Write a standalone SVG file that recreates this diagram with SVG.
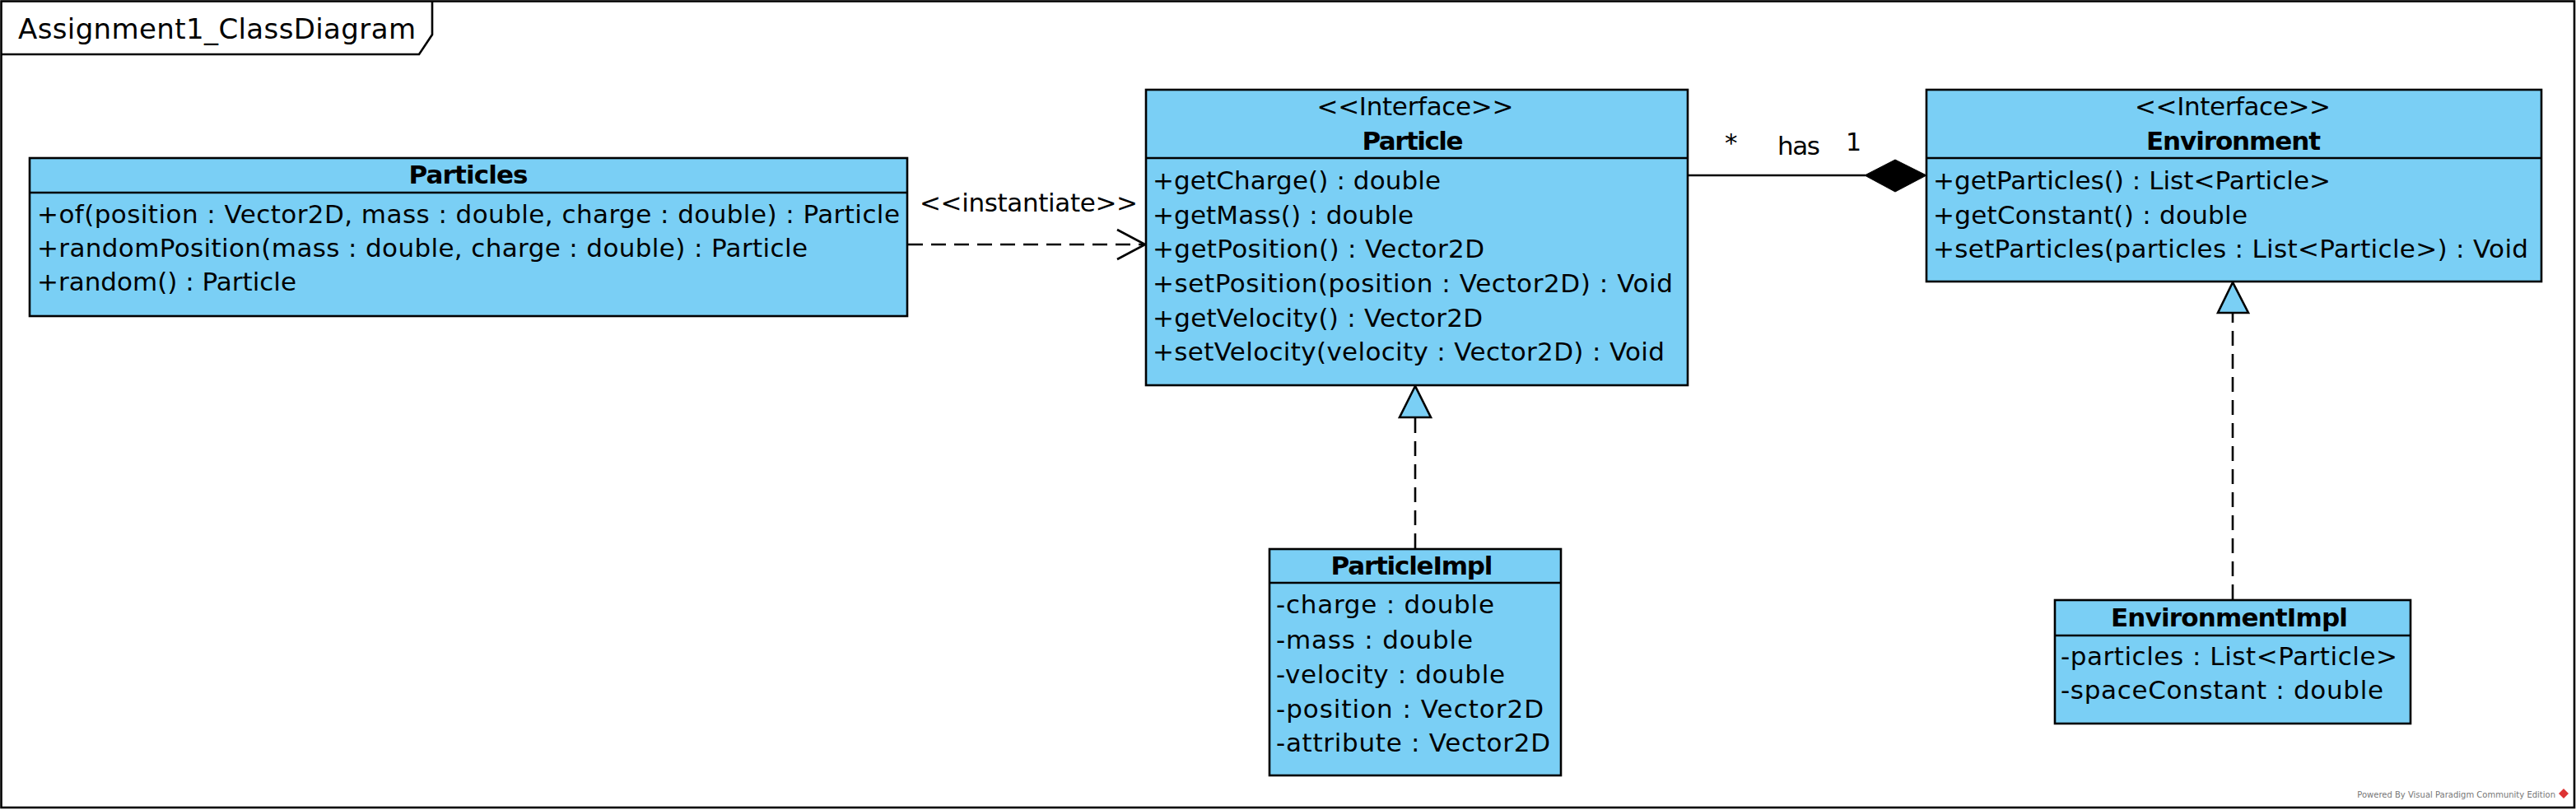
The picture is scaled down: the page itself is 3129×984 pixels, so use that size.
<svg xmlns="http://www.w3.org/2000/svg" width="3129" height="984" viewBox="0 0 3129 984">
<style>
.box{fill:#7ACFF5;stroke:#000;stroke-width:2.6}
.sep{stroke:#000;stroke-width:2.6}
.t{font-family:"DejaVu Sans","Liberation Sans",sans-serif;font-size:31px;fill:#000}
.b{font-family:"DejaVu Sans","Liberation Sans",sans-serif;font-size:31px;font-weight:bold;fill:#000}
.c{text-anchor:middle}
.line{stroke:#000;stroke-width:2.6;fill:none}
.dash{stroke:#000;stroke-width:2.6;fill:none;stroke-dasharray:18 10}
</style>
<rect width="3129" height="984" fill="#fff"/>
<g id="frame">
<rect x="1.5" y="1.5" width="3125.5" height="979.5" fill="none" stroke="#000" stroke-width="2.6"/>
<path d="M1.5,66 H509 L525,42 V1.5" fill="none" stroke="#000" stroke-width="2.6"/>
<text class="t" x="22" y="47" font-size="34" style="font-size:34px" textLength="483">Assignment1_ClassDiagram</text>
</g>
<g id="connectors">
<line class="dash" x1="1103" y1="297" x2="1390" y2="297"/>
<polyline class="line" points="1357,279 1391,297 1357,315"/>
<text class="t" x="1117" y="257" textLength="265">&lt;&lt;instantiate&gt;&gt;</text>
<line class="line" x1="2051" y1="213" x2="2266" y2="213"/>
<polygon points="2265,213 2302,194 2340,213 2302,233" fill="#000" stroke="#000" stroke-width="1"/>
<text class="t" x="2095" y="184">*</text>
<text class="t" x="2159" y="188" textLength="52">has</text>
<text class="t" x="2242" y="183" style="font-size:30px">1</text>
<line class="dash" x1="1719" y1="666" x2="1719" y2="508"/>
<polygon points="1719,469 1700,507 1738,507" fill="#7ACFF5" stroke="#000" stroke-width="2.6"/>
<line class="dash" x1="2712" y1="728" x2="2712" y2="381"/>
<polygon points="2712,343 2694,380 2731,380" fill="#7ACFF5" stroke="#000" stroke-width="2.6"/>
</g>
<g id="Particles">
<rect class="box" x="36" y="192" width="1066" height="192"/>
<line class="sep" x1="36" y1="234" x2="1102" y2="234"/>
<text class="b c" x="569" y="223" textLength="145">Particles</text>
<text class="t" x="45" y="271" textLength="1048">+of(position : Vector2D, mass : double, charge : double) : Particle</text>
<text class="t" x="45" y="312" textLength="936">+randomPosition(mass : double, charge : double) : Particle</text>
<text class="t" x="45" y="353" textLength="315">+random() : Particle</text>
</g>
<g id="Particle">
<rect class="box" x="1392" y="109" width="658" height="359"/>
<line class="sep" x1="1392" y1="192" x2="2050" y2="192"/>
<text class="t c" x="1719" y="140" textLength="239">&lt;&lt;Interface&gt;&gt;</text>
<text class="b c" x="1716" y="182" textLength="123">Particle</text>
<text class="t" x="1400" y="230" textLength="350">+getCharge() : double</text>
<text class="t" x="1400" y="272" textLength="317">+getMass() : double</text>
<text class="t" x="1400" y="313" textLength="403">+getPosition() : Vector2D</text>
<text class="t" x="1400" y="355" textLength="632">+setPosition(position : Vector2D) : Void</text>
<text class="t" x="1400" y="397" textLength="401">+getVelocity() : Vector2D</text>
<text class="t" x="1400" y="438" textLength="622">+setVelocity(velocity : Vector2D) : Void</text>
</g>
<g id="Environment">
<rect class="box" x="2340" y="109" width="747" height="233"/>
<line class="sep" x1="2340" y1="192" x2="3087" y2="192"/>
<text class="t c" x="2712" y="140" textLength="238">&lt;&lt;Interface&gt;&gt;</text>
<text class="b c" x="2713" y="182" textLength="212">Environment</text>
<text class="t" x="2348" y="230" textLength="483">+getParticles() : List&lt;Particle&gt;</text>
<text class="t" x="2348" y="272" textLength="382">+getConstant() : double</text>
<text class="t" x="2348" y="313" textLength="723">+setParticles(particles : List&lt;Particle&gt;) : Void</text>
</g>
<g id="ParticleImpl">
<rect class="box" x="1542" y="667" width="354" height="275"/>
<line class="sep" x1="1542" y1="708" x2="1896" y2="708"/>
<text class="b c" x="1715" y="698" textLength="197">ParticleImpl</text>
<text class="t" x="1550" y="745" textLength="265">-charge : double</text>
<text class="t" x="1550" y="788" textLength="239">-mass : double</text>
<text class="t" x="1550" y="830" textLength="278">-velocity : double</text>
<text class="t" x="1550" y="872" textLength="325">-position : Vector2D</text>
<text class="t" x="1550" y="913" textLength="333">-attribute : Vector2D</text>
</g>
<g id="EnvironmentImpl">
<rect class="box" x="2496" y="729" width="432" height="150"/>
<line class="sep" x1="2496" y1="772" x2="2928" y2="772"/>
<text class="b c" x="2708" y="761" textLength="288">EnvironmentImpl</text>
<text class="t" x="2503" y="808" textLength="409">-particles : List&lt;Particle&gt;</text>
<text class="t" x="2503" y="849" textLength="392">-spaceConstant : double</text>
</g>
<g id="watermark">
<text x="3104" y="969" font-family="DejaVu Sans, sans-serif" font-size="10" fill="#777" text-anchor="end">Powered By Visual Paradigm Community Edition</text>
<polygon points="3114,958 3120,964 3114,970 3108,964" fill="#d33"/>
</g>
</svg>
